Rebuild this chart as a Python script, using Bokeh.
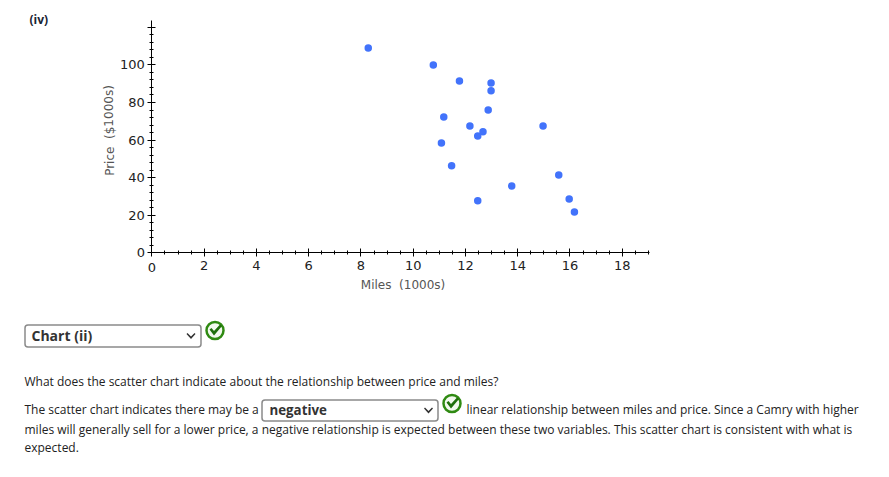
from bokeh.plotting import figure
from bokeh.models import Range1d, FixedTicker, Label, BoxAnnotation, PolyAnnotation
from bokeh.embed import file_html
from bokeh.resources import INLINE

miles = [8.28, 10.77, 11.77, 12.98, 12.98, 12.87, 11.17, 12.17, 14.97, 12.67, 12.47, 11.08, 11.47, 15.57, 13.77, 12.47, 15.97, 16.17]
price = [109, 100, 91.5, 90.4, 86.2, 76, 72.3, 67.5, 67.5, 64.4, 62.2, 58.5, 46.3, 41.5, 35.6, 27.7, 28.7, 21.8]
x_major = [0, 2, 4, 6, 8, 10, 12, 14, 16, 18]
x_minor = [i * 0.5 for i in range(0, 39)]
y_major = [0, 20, 40, 60, 80, 100, 120]
y_minor = [i * 4 for i in range(0, 31)]
x_title = "Miles \u00a0(1000s)"
y_title = "Price \u00a0($1000s)"
panel_title = "(iv)"
chart_choice = "Chart (ii)"
question = "What does the scatter chart indicate about the relationship between price and miles?"
answer_a = "The scatter chart indicates there may be a"
answer_choice = "negative"
answer_b = "linear relationship between miles and price. Since a Camry with higher"
answer_c = "miles will generally sell for a lower price, a negative relationship is expected between these two variables. This scatter chart is consistent with what is"
answer_d = "expected."

W, H = 873, 461
X0, XS = 151.4, 26.13    # page position of x = 0, pixels per unit
Y0, YS = 252.4, 1.88     # page position of y = 0, pixels per unit
p = figure(width=W, height=H, output_backend="svg", toolbar_location=None,
           x_range=Range1d(-X0 / XS, (W - X0) / XS), y_range=Range1d((Y0 - H) / YS, Y0 / YS),
           min_border_left=0, min_border_right=0, min_border_top=0, min_border_bottom=0)
p.grid.visible = False
p.outline_line_color = None

for ax, maj, mnr in ((p.xaxis[0], x_major, x_minor), (p.yaxis[0], y_major, y_minor)):
    ax.ticker = FixedTicker(ticks=maj, minor_ticks=mnr)
    ax.fixed_location = 0
    ax.axis_line_color = "#000000"
    ax.major_tick_line_color = "#000000"
    ax.minor_tick_line_color = "#000000"
    ax.major_tick_in = 4
    ax.major_tick_out = 4
    ax.minor_tick_in = 2
    ax.minor_tick_out = 2
    ax.major_label_text_font = "DejaVu Sans"
    ax.major_label_text_font_size = "13px"
    ax.major_label_text_color = "#222222"
p.xaxis[0].bounds = (0, 19.05)
p.yaxis[0].bounds = (0, 123.5)
p.xaxis[0].major_label_standoff = 1
p.yaxis[0].major_label_standoff = 3
p.xaxis[0].major_label_overrides = {0: " "}
p.yaxis[0].major_label_overrides = {120: " "}

p.scatter(miles, price, size=7.5, color="#4273fb", line_width=0)


def txt(s, x, y, font="Open Sans", size=12, color="#222222", style="normal", angle=0, align="left", base="alphabetic"):
    p.add_layout(Label(x=x, y=y, x_units="canvas", y_units="canvas", text=s, text_font=font,
                       text_font_size=f"{size}px", text_color=color, text_font_style=style, angle=angle,
                       text_align=align, text_baseline=base))


def select(l, t, r, b, cx):
    p.add_layout(BoxAnnotation(left=l, right=r, top=t, bottom=b,
                               left_units="canvas", right_units="canvas", top_units="canvas", bottom_units="canvas",
                               fill_color="#ffffff", fill_alpha=1, line_color="#8a8a8a", line_alpha=1, line_width=1.5,
                               border_radius=3))
    cy = (t + b) / 2
    xs = [cx - 4.5, cx - 3.5, cx, cx + 3.5, cx + 4.5, cx]
    ys = [cy - 2, cy - 3, cy + 0.6, cy - 3, cy - 2, cy + 3]
    p.add_layout(PolyAnnotation(xs=xs, ys=ys, xs_units="canvas", ys_units="canvas",
                                fill_color="#333333", fill_alpha=1, line_color=None))


def check(cx, cy):
    r = 8.5
    p.add_layout(BoxAnnotation(left=cx - r, right=cx + r, top=cy - r, bottom=cy + r,
                               left_units="canvas", right_units="canvas", top_units="canvas", bottom_units="canvas",
                               fill_color="#f2f9ee", fill_alpha=1, line_color="#2f8a12", line_alpha=1, line_width=2.5,
                               border_radius=9))
    xs = [cx - 5.5, cx - 3.5, cx - 1, cx + 5, cx + 7, cx - 1]
    ys = [cy - 1, cy - 2.5, cy + 0.5, cy - 6, cy - 4.5, cy + 5]
    p.add_layout(PolyAnnotation(xs=xs, ys=ys, xs_units="canvas", ys_units="canvas",
                                fill_color="#1f6f0c", fill_alpha=1, line_color=None))


txt("0", 151.5, 267, font="DejaVu Sans", size=13, align="center", color="#222222")
txt(x_title, 402.5, 284, font="DejaVu Sans", size=12, color="#555555", align="center")
txt(y_title, 109, 130, font="DejaVu Sans", size=12, color="#555555", angle=1.5708, align="center")

txt(panel_title, 29, 19, style="bold", color="#1a2433")

select(24.5, 324.5, 200.5, 346.5, 190.5)
check(214.5, 330)
txt(chart_choice, 31, 335, style="bold", size=14, color="#333333")

txt(question, 24, 380.5)
txt(answer_a, 24, 409)
select(261.5, 399.5, 437.5, 420.5, 428)
txt(answer_choice, 269, 409, style="bold", size=13.3, color="#333333")
check(451.5, 403)
txt(answer_b, 466, 409)
txt(answer_c, 24, 428.5)
txt(answer_d, 24, 446.5)

open("out.html", "w").write(file_html(p, INLINE))
